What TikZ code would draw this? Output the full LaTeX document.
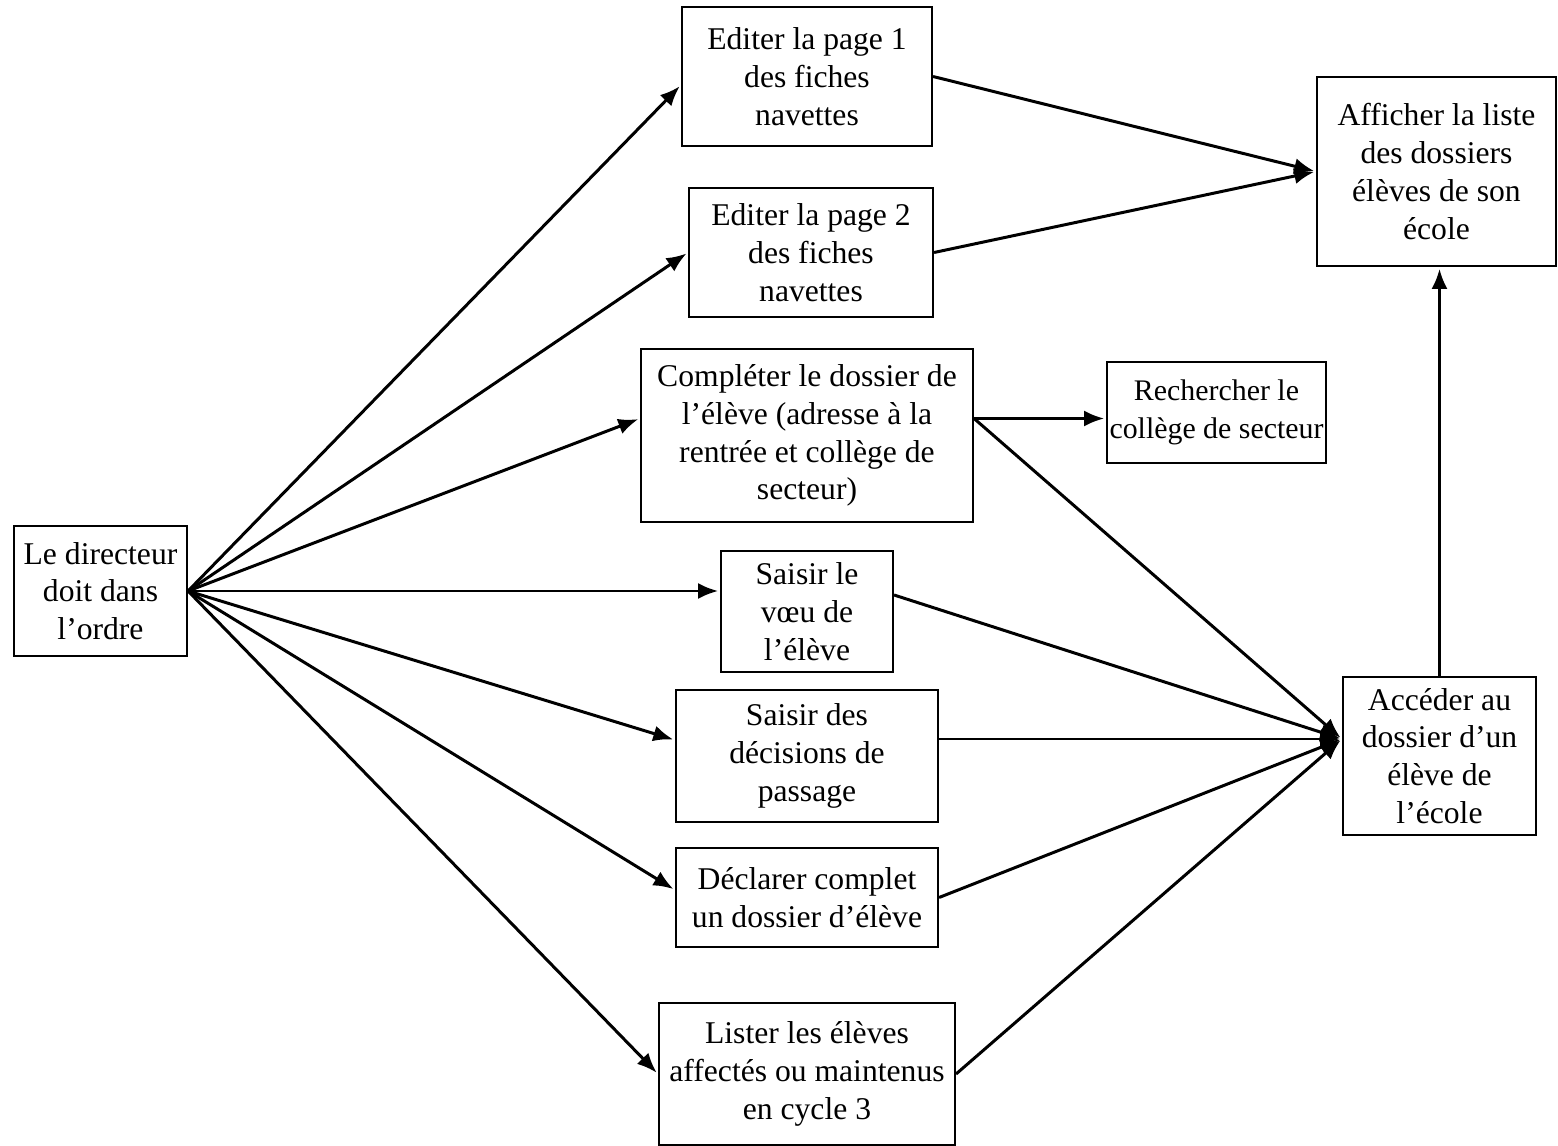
\documentclass[tikz,border=0pt]{standalone}
\usepackage{fontspec}
\setmainfont{Liberation Serif}
\usepackage{tikz}
\usetikzlibrary{arrows.meta}

\begin{document}
\begin{tikzpicture}[->,>={Latex[length=0.4cm,width=0.32cm]},shorten >=1pt,line width=1.7pt,
        box/.style={rectangle,draw,line width=1.2pt,align=center,inner sep=2pt,
          font=\fontsize{18}{21.5}\selectfont}]

  \useasboundingbox (0,0) rectangle (31.16,-22.92);

  \node[box,minimum width=3.46cm,minimum height=2.6cm] (dir) at (2.01,-11.82) {Le directeur\\doit dans\\l’ordre};
  \node[box,minimum width=5cm,minimum height=2.78cm] (p1) at (16.14,-1.53) {Editer la page 1\\des fiches\\navettes};
  \node[box,minimum width=4.88cm,minimum height=2.58cm] (p2) at (16.22,-5.05) {Editer la page 2\\des fiches\\navettes};
  \node[box,minimum width=6.64cm,minimum height=3.46cm] (comp) at (16.14,-8.71) {Compléter le dossier de\\l’élève (adresse à la\\rentrée et collège de\\secteur)};
  \node[box,minimum width=4.38cm,minimum height=2.02cm,inner xsep=1pt,font=\fontsize{17}{21.5}\selectfont] (rech) at (24.33,-8.25) {Rechercher le\\collège de secteur};
  \node[box,minimum width=3.44cm,minimum height=2.42cm] (voeu) at (16.14,-12.23) {Saisir le\\vœu de\\l’élève};
  \node[box,minimum width=5.24cm,minimum height=2.64cm] (dec) at (16.14,-15.12) {Saisir des\\décisions de\\passage};
  \node[box,minimum width=5.24cm,minimum height=1.98cm] (decl) at (16.14,-17.95) {Déclarer complet\\un dossier d’élève};
  \node[box,minimum width=5.92cm,minimum height=2.84cm] (list) at (16.14,-21.48) {Lister les élèves\\affectés ou maintenus\\en cycle 3};
  \node[box,minimum width=4.78cm,minimum height=3.78cm] (aff) at (28.73,-3.43) {Afficher la liste\\des dossiers\\élèves de son\\école};
  \node[box,minimum width=3.86cm,minimum height=3.16cm] (acc) at (28.79,-15.12) {Accéder au\\dossier d’un\\élève de\\l’école};

  \path (dir.east) edge ([yshift=-0.17cm]p1.west)
        (dir.east) edge (p2.west)
        (dir.east) edge ([yshift=0.34cm]comp.west)
        (dir.east) edge (dir.east -| voeu.west)
        (dir.east) edge ([yshift=0.32cm]dec.west)
        (dir.east) edge ([yshift=0.15cm]decl.west)
        (dir.east) edge (list.west)
        (p1.east) edge (aff.west)
        (p2.east) edge (aff.west)
        ([yshift=0.34cm]comp.east) edge ([yshift=0.34cm]comp.east -| rech.west)
        ([yshift=0.34cm]comp.east) edge ([yshift=0.34cm]acc.west)
        ([yshift=0.33cm]voeu.east) edge ([yshift=0.34cm]acc.west)
        ([yshift=0.34cm]dec.east) edge ([yshift=0.34cm]acc.west)
        (decl.east) edge ([yshift=0.34cm]acc.west)
        (list.east) edge ([yshift=0.34cm]acc.west)
        (acc.north) edge (acc.north |- aff.south);

\end{tikzpicture}
\end{document}
